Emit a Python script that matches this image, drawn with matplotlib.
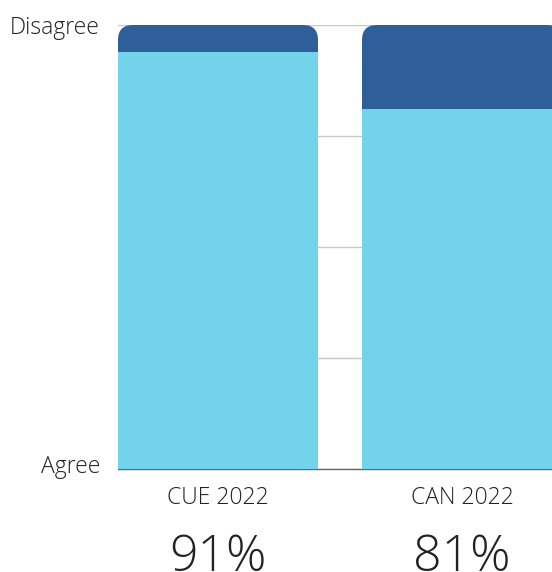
import matplotlib
matplotlib.use("Agg")
import matplotlib.pyplot as plt
import matplotlib.transforms as mtransforms
from matplotlib.patches import FancyBboxPatch

categories = ["CUE 2022", "CAN 2022"]
agree = [94, 81]
disagree = [6, 19]
pct_labels = ["91%", "81%"]
ytick_labels = ["Agree", "Disagree"]

light = "#72D3EA"
dark = "#2E5F98"

plt.rcParams['font.family'] = ['Open Sans', 'DejaVu Sans']

W, H = 552, 572
fig = plt.figure(figsize=(W / 100, H / 100), dpi=100)
left_px, right_px, top_px, bot_px = 118, 552, 25, 469
ax = fig.add_axes([left_px / W, 1 - bot_px / H, (right_px - left_px) / W, (bot_px - top_px) / H])

x = [0, 1]
width = 200 / 244
ax.set_xlim(-width / 2, -width / 2 + (right_px - left_px) / 244)
ax.set_ylim(0, 100)

# dark (disagree) bars with rounded tops, full height behind
dbars = ax.bar(x, [a + d for a, d in zip(agree, disagree)], width=width, color=dark, zorder=2)
xu_per_px = 1 / 244
yu_per_px = 100 / (bot_px - top_px)
r_px = 15
aspect = yu_per_px / xu_per_px
for rect in dbars:
    rect.set_visible(False)
    p = FancyBboxPatch((rect.get_x(), rect.get_y()), rect.get_width(), rect.get_height(),
                       boxstyle=f"round,pad=0,rounding_size={r_px * xu_per_px}",
                       mutation_aspect=aspect, facecolor=dark, edgecolor='none', zorder=2,
                       clip_on=True)
    ax.add_patch(p)
ax.bar(x, agree, width=width, color=light, zorder=3)

ax.set_yticks([0, 25, 50, 75, 100])
ax.set_yticklabels([ytick_labels[0], "", "", "", ytick_labels[1]])
ax.yaxis.grid(True, color="#c8c8c8", linewidth=1)
ax.set_axisbelow(True)
ax.tick_params(axis='y', length=0, pad=13, labelsize=16.5, labelcolor="#222222")
ax.tick_params(axis='x', length=0, pad=12, labelsize=16.5, labelcolor="#222222")
ax.set_xticks(x)
ax.set_xticklabels(categories)
for lab in ax.get_xticklabels() + ax.get_yticklabels():
    lab.set_fontweight('light')
for s in ['top', 'right', 'left']:
    ax.spines[s].set_visible(False)
ax.spines['bottom'].set_color("#666666")
ax.spines['bottom'].set_linewidth(1)

# nudge the bottom "Agree" label up slightly
ylabs = ax.get_yticklabels()
shift = mtransforms.ScaledTranslation(0, 5 / 100, fig.dpi_scale_trans)
ylabs[0].set_transform(ylabs[0].get_transform() + shift)

for xi, lab in zip(x, pct_labels):
    ax.annotate(lab, xy=(xi, 0), xycoords='data', xytext=(0, -(571 - bot_px)),
                textcoords='offset pixels', ha='center', va='baseline',
                fontsize=36, fontweight='light', color="#222222", annotation_clip=False)

fig.savefig("out.png", dpi=100)
